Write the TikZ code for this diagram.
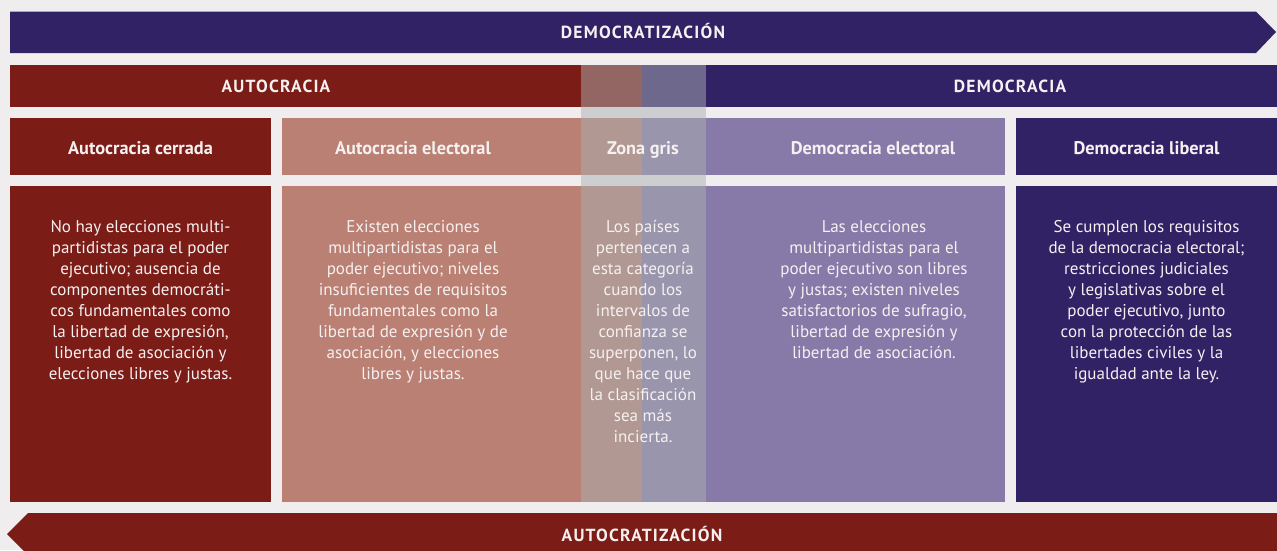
\documentclass[tikz,border=0pt]{standalone}
\usepackage{fontspec}
\setmainfont{PT Sans}
\definecolor{bg}{RGB}{239,237,238}
\definecolor{dpurple}{RGB}{49,34,102}
\definecolor{dred}{RGB}{123,28,23}
\definecolor{lred}{RGB}{185,128,115}
\definecolor{lpurple}{RGB}{135,122,169}
\definecolor{grayov}{RGB}{171,177,178}
\definecolor{txt}{RGB}{246,240,240}
\begin{document}
\begin{tikzpicture}[x=1pt,y=-1pt,
  box/.style={anchor=north west,inner sep=0pt,outer sep=0pt,draw=none},
  caps/.style={text=txt,inner sep=0pt,anchor=base,font=\bfseries\fontsize{17.5}{20}\selectfont\addfontfeatures{LetterSpace=7}},
  head/.style={text=txt,inner sep=0pt,anchor=base,font=\bfseries\fontsize{18.3}{20}\selectfont},
  body/.style={text=txt,inner sep=0pt,anchor=north,align=center,font=\fontsize{17}{21}\selectfont}]
\useasboundingbox (0,0) rectangle (1277,550);
\fill[bg] (0,0) rectangle (1277,550);
% top arrow
\fill[dpurple] (10,11.5) -- (1256,11.5) -- (1276,32) -- (1256,53) -- (10,53) -- cycle;
\node[caps] (demz) at (643,38.5) {DEMOCRATIZACIÓN};
% bottom arrow
\fill[dred] (1277,513) -- (28,513) -- (7,534) -- (28,555) -- (1277,555) -- cycle;
\node[caps] (autz) at (642,541) {AUTOCRATIZACIÓN};
% row 2
\node[box,fill=dred,minimum width=632pt,minimum height=42pt] (autbar) at (10,65) {};
\node[box,fill=dpurple,minimum width=635pt,minimum height=42pt] (dembar) at (642,65) {};
% row 3 headers
\node[box,fill=dred,minimum width=261pt,minimum height=57pt] (h1) at (10,118) {};
\node[box,fill=lred,minimum width=360pt,minimum height=57pt] (h2) at (282,118) {};
\node[box,fill=lpurple,minimum width=363pt,minimum height=57pt] (h4) at (642,118) {};
\node[box,fill=dpurple,minimum width=261pt,minimum height=57pt] (h5) at (1016,118) {};
% row 4 bodies
\node[box,fill=dred,minimum width=261pt,minimum height=316pt] (b1) at (10,186) {};
\node[box,fill=lred,minimum width=360pt,minimum height=316pt] (b2) at (282,186) {};
\node[box,fill=lpurple,minimum width=363pt,minimum height=316pt] (b4) at (642,186) {};
\node[box,fill=dpurple,minimum width=261pt,minimum height=316pt] (b5) at (1016,186) {};
% grey zone overlay
\node[box,fill=grayov,fill opacity=0.5,minimum width=125pt,minimum height=437pt] (gz) at (581,65) {};
% labels
\node[caps] (laut) at (276,92.5) {AUTOCRACIA};
\node[caps] (ldem) at (1010,92.5) {DEMOCRACIA};
\node[head] (t1) at (140.5,154) {Autocracia cerrada};
\node[head] (t2) at (413,154) {Autocracia electoral};
\node[head] (t3) at (643,154) {Zona gris};
\node[head] (t4) at (873,154) {Democracia electoral};
\node[head] (t5) at (1146.5,154) {Democracia liberal};
\node[body] (x1) at (140.5,220.5) {No hay elecciones multi-\\partidistas para el poder\\ejecutivo; ausencia de\\componentes democráti-\\cos fundamentales como\\la libertad de expresión,\\libertad de asociación y\\elecciones libres y justas.};
\node[body] (x2) at (413,220.5) {Existen elecciones\\multipartidistas para el\\poder ejecutivo; niveles\\insuficientes de requisitos\\fundamentales como la\\libertad de expresión y de\\asociación, y elecciones\\libres y justas.};
\node[body] (x3) at (643,220.5) {Los países\\pertenecen a\\esta categoría\\cuando los\\intervalos de\\confianza se\\superponen, lo\\que hace que\\la clasificación\\sea más\\incierta.};
\node[body] (x4) at (874,220.5) {Las elecciones\\multipartidistas para el\\poder ejecutivo son libres\\y justas; existen niveles\\satisfactorios de sufragio,\\libertad de expresión y\\libertad de asociación.};
\node[body] (x5) at (1146.5,220.5) {Se cumplen los requisitos\\de la democracia electoral;\\restricciones judiciales\\y legislativas sobre el\\poder ejecutivo, junto\\con la protección de las\\libertades civiles y la\\igualdad ante la ley.};
\end{tikzpicture}
\end{document}
